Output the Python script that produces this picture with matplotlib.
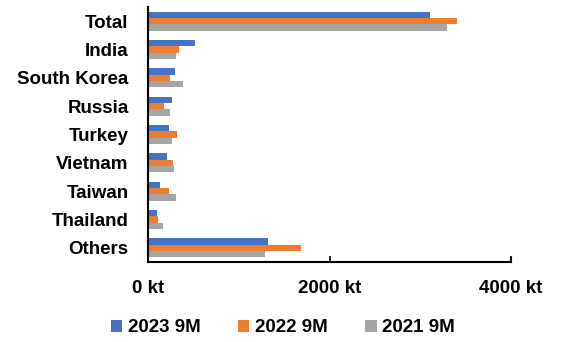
import numpy as np
import matplotlib
matplotlib.use("Agg")
import matplotlib.pyplot as plt

# Shipments by destination, kt
countries = ["Total", "India", "South Korea", "Russia", "Turkey",
             "Vietnam", "Taiwan", "Thailand", "Others"]
series_names = ["2023 9M", "2022 9M", "2021 9M"]
y2023 = [3105, 518, 294, 264, 235, 209, 132, 96, 1322]
y2022 = [3400, 345, 246, 176, 316, 272, 231, 107, 1681]
y2021 = [3290, 308, 385, 239, 268, 290, 308, 169, 1285]
x_ticks = [0, 2000, 4000]

colors = ["#4472C4", "#ED7D31", "#A5A5A5"]
fs = 13.5

plt.rcParams['font.family'] = ['Liberation Sans', 'DejaVu Sans']
plt.rcParams['font.weight'] = 'bold'

fig = plt.figure(figsize=(5.61, 3.42), dpi=100)
ax = fig.add_axes([148 / 561, 1 - 262 / 342, 363 / 561, 255 / 342])

pos = np.arange(len(countries))
h = 0.22
for i, (vals, name) in enumerate(zip([y2023, y2022, y2021], series_names)):
    ax.barh(pos + (i - 1) * h, vals, height=h, color=colors[i], label=name)

ax.set_ylim(len(countries) - 0.5, -0.5)
ax.set_xlim(0, 4000)
ax.set_yticks(pos)
ax.set_yticklabels(countries, fontsize=fs, fontweight='bold')
ax.set_xticks(x_ticks)
ax.set_xticklabels([f"{t} kt" for t in x_ticks], fontsize=fs, fontweight='bold')
ax.tick_params(axis='y', length=0, pad=14)
ax.tick_params(axis='x', direction='in', length=4, pad=13, width=1.2)

ax.spines['top'].set_visible(False)
for side in ['left', 'bottom', 'right']:
    ax.spines[side].set_linewidth(1.5)
ax.spines['right'].set_bounds(len(countries) - 0.5, len(countries) - 0.65)

handles, labels = ax.get_legend_handles_labels()
fig.legend(handles, labels, loc='center', bbox_to_anchor=(283 / 561, 1 - 328 / 342),
           ncol=3, frameon=False, handlelength=0.6, handleheight=0.6,
           handletextpad=0.3, columnspacing=2.0, prop={'weight': 'bold', 'size': fs})

fig.savefig("out.png", dpi=100)
